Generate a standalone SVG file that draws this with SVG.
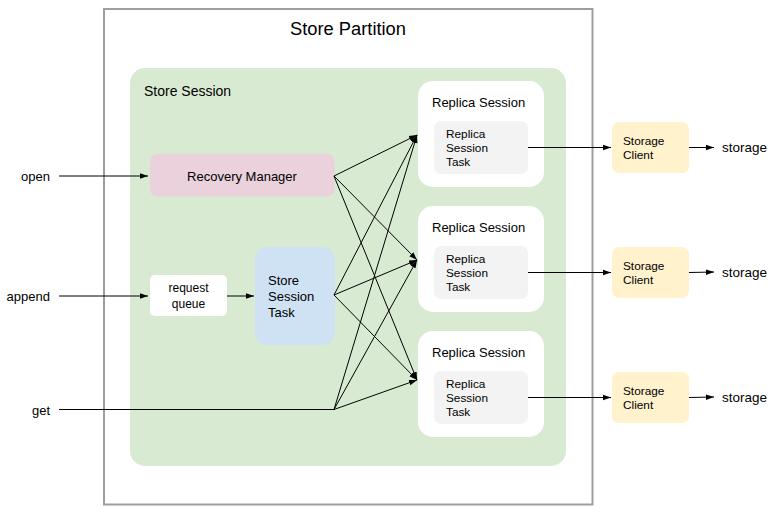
<svg xmlns="http://www.w3.org/2000/svg" width="776" height="523" viewBox="0 0 776 523">
<style>
text{font-family:"Liberation Sans",Arial,sans-serif;fill:#000}
.c{stroke:#000;stroke-width:1;fill:none}
.s13{font-size:13px}
.s11{font-size:11.8px}
</style>
<defs>
<marker id="ah" viewBox="0 0 10 10" refX="10" refY="5" markerWidth="8" markerHeight="8" markerUnits="userSpaceOnUse" orient="auto">
<path d="M0,1.5 L10,5 L0,8.5 Z" fill="#000"/>
</marker>
</defs>
<rect width="776" height="523" fill="#fff"/>
<g id="store-partition">
<rect x="104" y="9" width="488.5" height="495.5" fill="#fff" stroke="#9e9e9e" stroke-width="2"/>
<text x="348" y="35" font-size="18.3" text-anchor="middle">Store Partition</text>
</g>
<g id="store-session">
<rect x="130" y="68" width="436" height="398" rx="15" fill="#d9ead3"/>
<text x="144" y="96" font-size="14">Store Session</text>
</g>
<g id="recovery-manager">
<rect x="150" y="154" width="184.5" height="42.5" rx="7" fill="#ead1dc"/>
<text x="242" y="180.5" class="s13" text-anchor="middle">Recovery Manager</text>
</g>
<g id="request-queue">
<rect x="150" y="275" width="77" height="41" rx="5" fill="#fff"/>
<text x="188.5" y="292" text-anchor="middle" style="font-size:12px">request</text>
<text x="188.5" y="308" text-anchor="middle" style="font-size:12px">queue</text>
</g>
<g id="store-session-task">
<rect x="255" y="247" width="80" height="98" rx="13" fill="#cfe2f3"/>
<text x="268" y="285" class="s13">Store</text>
<text x="268" y="301" class="s13">Session</text>
<text x="268" y="317" class="s13">Task</text>
</g>
<g id="replica-session-1">
<rect x="418" y="81" width="126" height="106" rx="15" fill="#fff"/>
<text x="432" y="107" class="s13">Replica Session</text>
<rect x="434" y="121" width="94" height="53" rx="7" fill="#f3f3f3"/>
<text x="446" y="138" class="s11">Replica</text>
<text x="446" y="152" class="s11">Session</text>
<text x="446" y="166" class="s11">Task</text>
</g>
<g id="replica-session-2">
<rect x="418" y="206" width="126" height="106" rx="15" fill="#fff"/>
<text x="432" y="232" class="s13">Replica Session</text>
<rect x="434" y="246" width="94" height="53" rx="7" fill="#f3f3f3"/>
<text x="446" y="263" class="s11">Replica</text>
<text x="446" y="277" class="s11">Session</text>
<text x="446" y="291" class="s11">Task</text>
</g>
<g id="replica-session-3">
<rect x="418" y="331" width="126" height="106" rx="15" fill="#fff"/>
<text x="432" y="357" class="s13">Replica Session</text>
<rect x="434" y="371" width="94" height="53" rx="7" fill="#f3f3f3"/>
<text x="446" y="388" class="s11">Replica</text>
<text x="446" y="402" class="s11">Session</text>
<text x="446" y="416" class="s11">Task</text>
</g>
<g id="storage-client-1">
<rect x="612" y="122" width="77" height="51" rx="7" fill="#fff2cc"/>
<text x="623" y="145" class="s11">Storage</text>
<text x="623" y="159" class="s11">Client</text>
</g>
<g id="storage-client-2">
<rect x="612" y="247" width="77" height="51" rx="7" fill="#fff2cc"/>
<text x="623" y="270" class="s11">Storage</text>
<text x="623" y="284" class="s11">Client</text>
</g>
<g id="storage-client-3">
<rect x="612" y="372" width="77" height="51" rx="7" fill="#fff2cc"/>
<text x="623" y="395" class="s11">Storage</text>
<text x="623" y="409" class="s11">Client</text>
</g>
<g id="labels">
<text x="50" y="180.5" class="s13" text-anchor="end">open</text>
<text x="50" y="300.5" class="s13" text-anchor="end">append</text>
<text x="50" y="414.5" class="s13" text-anchor="end">get</text>
<text x="722" y="152" style="font-size:13.5px">storage</text>
<text x="722" y="276.5" style="font-size:13.5px">storage</text>
<text x="722" y="401.5" style="font-size:13.5px">storage</text>
</g>
<g id="connectors">
<line class="c" x1="59" y1="176" x2="148" y2="176" marker-end="url(#ah)"/>
<line class="c" x1="59" y1="296" x2="148" y2="296" marker-end="url(#ah)"/>
<line class="c" x1="227" y1="296" x2="254" y2="296" marker-end="url(#ah)"/>
<line class="c" x1="59" y1="409.5" x2="334" y2="409.5"/>
<line class="c" x1="334" y1="176" x2="417" y2="135" marker-end="url(#ah)"/>
<line class="c" x1="334" y1="176" x2="417" y2="260" marker-end="url(#ah)"/>
<line class="c" x1="334" y1="176" x2="417" y2="380" marker-end="url(#ah)"/>
<line class="c" x1="334" y1="295" x2="417" y2="135" marker-end="url(#ah)"/>
<line class="c" x1="334" y1="295" x2="417" y2="260" marker-end="url(#ah)"/>
<line class="c" x1="334" y1="295" x2="417" y2="380" marker-end="url(#ah)"/>
<line class="c" x1="334" y1="409.5" x2="417" y2="135" marker-end="url(#ah)"/>
<line class="c" x1="334" y1="409.5" x2="417" y2="260" marker-end="url(#ah)"/>
<line class="c" x1="334" y1="409.5" x2="417" y2="380" marker-end="url(#ah)"/>
<line class="c" x1="528" y1="147.5" x2="611" y2="147.5" marker-end="url(#ah)"/>
<line class="c" x1="528" y1="272.5" x2="611" y2="272.5" marker-end="url(#ah)"/>
<line class="c" x1="528" y1="397.5" x2="611" y2="397.5" marker-end="url(#ah)"/>
<line class="c" x1="689" y1="147.5" x2="714" y2="147.5" marker-end="url(#ah)"/>
<line class="c" x1="689" y1="272.5" x2="714" y2="272" marker-end="url(#ah)"/>
<line class="c" x1="689" y1="397.5" x2="714" y2="397" marker-end="url(#ah)"/>
</g>
</svg>
